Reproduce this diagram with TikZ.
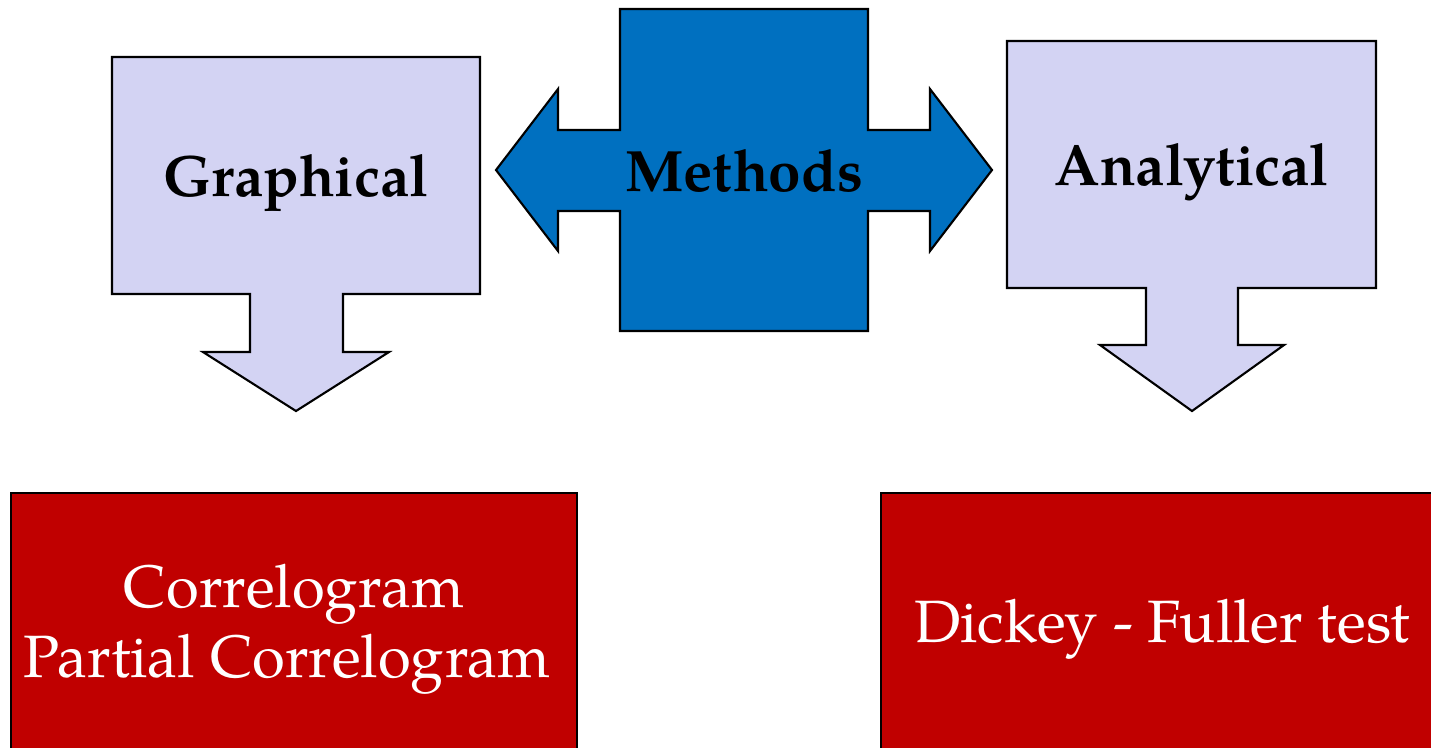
\documentclass[tikz,border=0pt]{standalone}
\usepackage{fontspec}
\setmainfont{TeX Gyre Pagella}
\usetikzlibrary{positioning}
\definecolor{mlav}{HTML}{D3D3F3}
\definecolor{mblue}{HTML}{0070C0}
\definecolor{mred}{HTML}{C00000}

\begin{document}
\begin{tikzpicture}[
    x=0.01cm, y=-0.01cm,
    callout/.style={draw=black, fill=mlav, line width=0.6pt},
    hub/.style={draw=black, fill=mblue, line width=0.6pt},
    result/.style={draw=black, fill=mred, line width=0.6pt, anchor=north west,
                   text=white, font=\fontsize{17}{20}\selectfont, align=center,
                   inner sep=0pt, minimum height=2.72cm},
    lbl/.style={font=\fontsize{16.6}{20}\selectfont\bfseries, anchor=base},
  ]
  \useasboundingbox (0,0) rectangle (1431,747);
  \clip (0,0) rectangle (1431,747);

  % Callouts
  \draw[callout] (112,57) -- (480,57) -- (480,294) -- (343,294) -- (343,352) -- (389,352)
    -- (296,411) -- (203,352) -- (250,352) -- (250,294) -- (112,294) -- cycle;
  \draw[callout] (1007,41) -- (1376,41) -- (1376,288) -- (1238,288) -- (1238,345) -- (1284,345)
    -- (1192,411) -- (1100,345) -- (1146,345) -- (1146,288) -- (1007,288) -- cycle;

  % Methods (left-right arrow)
  \draw[hub] (620,9) -- (868,9) -- (868,130) -- (930,130) -- (930,89) -- (992,170)
    -- (930,251) -- (930,211) -- (868,211) -- (868,331) -- (620,331) -- (620,211)
    -- (558,211) -- (558,251) -- (496,170) -- (558,89) -- (558,130) -- (620,130) -- cycle;

  % Labels
  \node[lbl] (graph) at (296,196) {Graphical};
  \node[lbl] (meth)  at (744,191) {Methods};
  \node[lbl] (anal)  at (1192,185) {Analytical};

  % Results
  \node[result, minimum width=5.66cm] (corr) at (10,492)
    {Correlogram\\Partial Correlogram\hspace{0.14cm}\mbox{}};
  \node[result, minimum width=5.62cm] (dick) at (880,492) {Dickey - Fuller test};
\end{tikzpicture}
\end{document}
